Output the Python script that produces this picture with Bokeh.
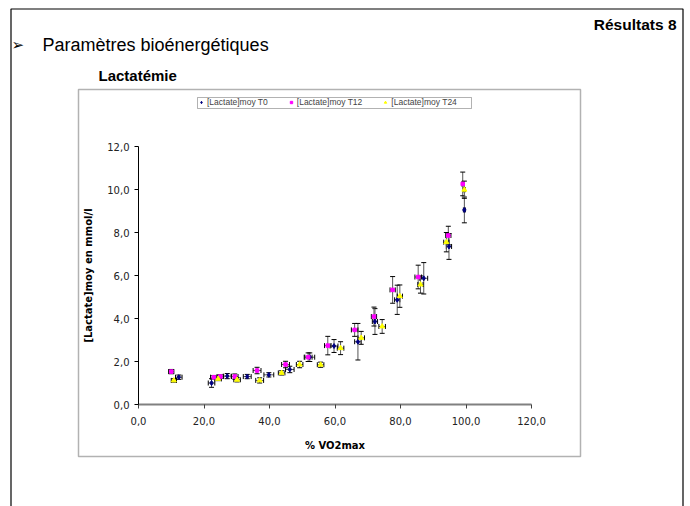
from bokeh.plotting import figure
from bokeh.models import (Range1d, FixedTicker, CustomJSTickFormatter, Whisker, TeeHead,
                          ColumnDataSource, Legend, LegendItem, Label, BoxAnnotation,
                          LinearAxis)
from bokeh.embed import file_html
from bokeh.resources import INLINE

# ---- data ----
x_ticks = [0, 20, 40, 60, 80, 100, 120]
y_ticks = [0, 2, 4, 6, 8, 10, 12]

t0_x = [12.3, 22.3, 27.1, 33.2, 39.8, 46.2, 52.3, 59.7, 67.0, 72.2, 79.0, 87.1, 94.8, 99.5]
t0_y = [1.27, 1.00, 1.32, 1.30, 1.38, 1.63, 2.20, 2.72, 2.92, 3.86, 4.87, 5.87, 7.35, 9.05]
t0_ye = [0.10, 0.20, 0.12, 0.10, 0.10, 0.15, 0.20, 0.30, 0.85, 0.60, 0.68, 0.73, 0.60, 0.60]
t0_xe = [1.0, 1.0, 1.2, 1.2, 1.5, 1.3, 1.5, 1.2, 1.0, 0.8, 0.8, 1.2, 0.8, 0.3]

t12_x = [10.0, 23.0, 25.0, 29.4, 36.2, 44.9, 51.8, 57.8, 66.0, 71.9, 77.6, 85.4, 94.6, 99.0]
t12_y = [1.53, 1.27, 1.30, 1.30, 1.58, 1.86, 2.20, 2.74, 3.47, 4.09, 5.33, 5.93, 7.86, 10.26]
t12_ye = [0.10, 0.08, 0.08, 0.12, 0.15, 0.15, 0.20, 0.43, 0.30, 0.44, 0.62, 0.55, 0.43, 0.55]
t12_xe = [0.8, 1.0, 1.0, 1.0, 1.2, 1.2, 1.2, 1.0, 1.0, 0.8, 0.8, 1.0, 0.8, 0.3]

t24_x = [10.8, 24.3, 30.1, 37.0, 43.7, 49.2, 55.6, 61.7, 68.0, 74.4, 79.8, 86.1, 94.0, 99.5]
t24_y = [1.12, 1.19, 1.15, 1.12, 1.47, 1.86, 1.85, 2.62, 3.10, 3.63, 5.04, 5.58, 7.55, 9.99]
t24_ye = [0.08, 0.08, 0.10, 0.12, 0.10, 0.15, 0.12, 0.30, 0.30, 0.32, 0.52, 0.40, 0.45, 0.40]
t24_xe = [0.8, 1.0, 1.0, 1.2, 1.0, 1.0, 1.0, 1.0, 1.0, 1.0, 0.8, 0.8, 0.8, 0.3]

series_names = ["[Lactate]moy T0", "[Lactate]moy T12", "[Lactate]moy T24"]
series_colors = ["#000080", "#FF00FF", "#FFFF00"]
series_markers = ["diamond", "square", "triangle"]
series_sizes = [5, 3.5, 5]

# ---- layout: frame = whole canvas, axes drawn at data 0 ----
W, H = 690, 506
X_LO, X_HI = 0, 120
Y_LO, Y_HI = 0, 12
AX_LEFT, AX_RIGHT = 138, 531     # canvas x of x=0 and x=120
AX_TOP, AX_BOTTOM = 146, 404     # canvas y of y=12 and y=0
kx = (X_HI - X_LO) / (AX_RIGHT - AX_LEFT)
ky = (Y_HI - Y_LO) / (AX_BOTTOM - AX_TOP)
x_range = Range1d(X_LO - AX_LEFT * kx, X_HI + (W - AX_RIGHT) * kx)
y_range = Range1d(Y_LO - (H - AX_BOTTOM) * ky, Y_HI + AX_TOP * ky)

def px2x(px):
    return X_LO + (px - AX_LEFT) * kx

def py2y(py):
    return Y_LO + (AX_BOTTOM - py) * ky

p = figure(width=W, height=H, output_backend="svg", toolbar_location=None,
           x_range=x_range, y_range=y_range, x_axis_type=None, y_axis_type=None,
           min_border=0, title=None)
p.grid.visible = False
p.outline_line_color = None
p.background_fill_color = "white"
p.border_fill_color = "white"

# page frame (open at the bottom), drawn as a plain line in canvas positions
frame_px = [10.5, 10.5, 682.5, 682.5]
frame_py = [520, 8.5, 8.5, 520]
p.line([px2x(v) for v in frame_px], [py2y(v) for v in frame_py],
       line_color="#000000", line_width=1.2)

fmt = CustomJSTickFormatter(code="return tick.toFixed(1).replace('.', ',');")
xaxis = LinearAxis(fixed_location=0, bounds=(X_LO, X_HI))
yaxis = LinearAxis(fixed_location=0, bounds=(Y_LO, Y_HI))
for ax, ticks in ((xaxis, x_ticks), (yaxis, y_ticks)):
    ax.ticker = FixedTicker(ticks=ticks)
    ax.formatter = fmt
    ax.minor_tick_line_color = None
    ax.major_tick_in = 0
    ax.major_tick_out = 4
    ax.major_label_text_font = "DejaVu Sans"
    ax.major_label_text_font_size = "10px"
    ax.major_label_text_color = "#222222"
    ax.axis_label_text_font = "DejaVu Sans"
    ax.axis_label_text_font_size = "10px"
    ax.axis_label_text_font_style = "bold"
    ax.axis_label_text_color = "#000000"

xaxis.axis_line_color = "#808080"
xaxis.axis_line_width = 2
xaxis.major_tick_line_color = "#404040"
xaxis.axis_label = "% VO2max"
xaxis.major_label_standoff = 8
xaxis.axis_label_standoff = 12
yaxis.axis_line_color = "#000000"
yaxis.major_tick_line_color = "#000000"
yaxis.axis_label = "[Lactate]moy en mmol/l"
yaxis.major_label_standoff = 5
yaxis.axis_label_standoff = 10
p.add_layout(xaxis, "below")
p.add_layout(yaxis, "left")

renderers = []
for xs, ys, yes, xes, col, mk, sz in (
        (t0_x, t0_y, t0_ye, t0_xe, series_colors[0], series_markers[0], series_sizes[0]),
        (t12_x, t12_y, t12_ye, t12_xe, series_colors[1], series_markers[1], series_sizes[1]),
        (t24_x, t24_y, t24_ye, t24_xe, series_colors[2], series_markers[2], series_sizes[2])):
    src = ColumnDataSource(dict(
        x=xs, y=ys,
        yu=[a + b for a, b in zip(ys, yes)], yl=[a - b for a, b in zip(ys, yes)],
        xu=[a + b for a, b in zip(xs, xes)], xl=[a - b for a, b in zip(xs, xes)]))
    for base, up, lo, dim in (("x", "yu", "yl", "height"), ("y", "xu", "xl", "width")):
        p.add_layout(Whisker(source=src, base=base, upper=up, lower=lo, dimension=dim,
                             line_color="#555555", line_width=1, level="underlay",
                             upper_head=TeeHead(size=5, line_color="#000000", line_width=1),
                             lower_head=TeeHead(size=5, line_color="#000000", line_width=1)))
    r = p.scatter("x", "y", source=src, marker=mk, size=sz, fill_color=col, line_color=col)
    renderers.append(r)

# ---- decorations (screen units measured from the canvas bottom-left) ----
def box(l, r, t, b, color, width):
    p.add_layout(BoxAnnotation(left=l, right=r, top=H - t, bottom=H - b,
                               left_units="screen", right_units="screen",
                               top_units="screen", bottom_units="screen",
                               fill_alpha=0, line_color=color, line_width=width))

box(78, 580, 89, 456, "#000000", 1.5)        # chart area
box(197, 471, 97, 108, "#000000", 1)         # legend box

legend = Legend(items=[LegendItem(label=n, renderers=[r]) for n, r in zip(series_names, renderers)],
                orientation="horizontal", location=(197, H - 108),
                label_text_font="Liberation Sans", label_text_font_size="8.5px",
                label_height=8, glyph_height=6, glyph_width=6, label_standoff=3,
                spacing=20, padding=1, margin=0,
                border_line_alpha=0, background_fill_alpha=0)
p.add_layout(legend)

def lab(text, x, y, size, bold=False, align="left", font="Liberation Sans"):
    p.add_layout(Label(x=x, y=H - y, x_units="screen", y_units="screen", text=text,
                       text_font=font, text_font_size=size,
                       text_font_style="bold" if bold else "normal",
                       text_align=align, text_baseline="middle", text_color="#000000"))

lab("Résultats 8", 676, 24, "15.5px", bold=True, align="right")
lab("➢", 11, 44, "15px", font="DejaVu Sans")
lab("Paramètres bioénergétiques", 42, 44, "18px")
lab("Lactatémie", 98, 75, "15px", bold=True)

open("out.html", "w").write(file_html(p, INLINE))
